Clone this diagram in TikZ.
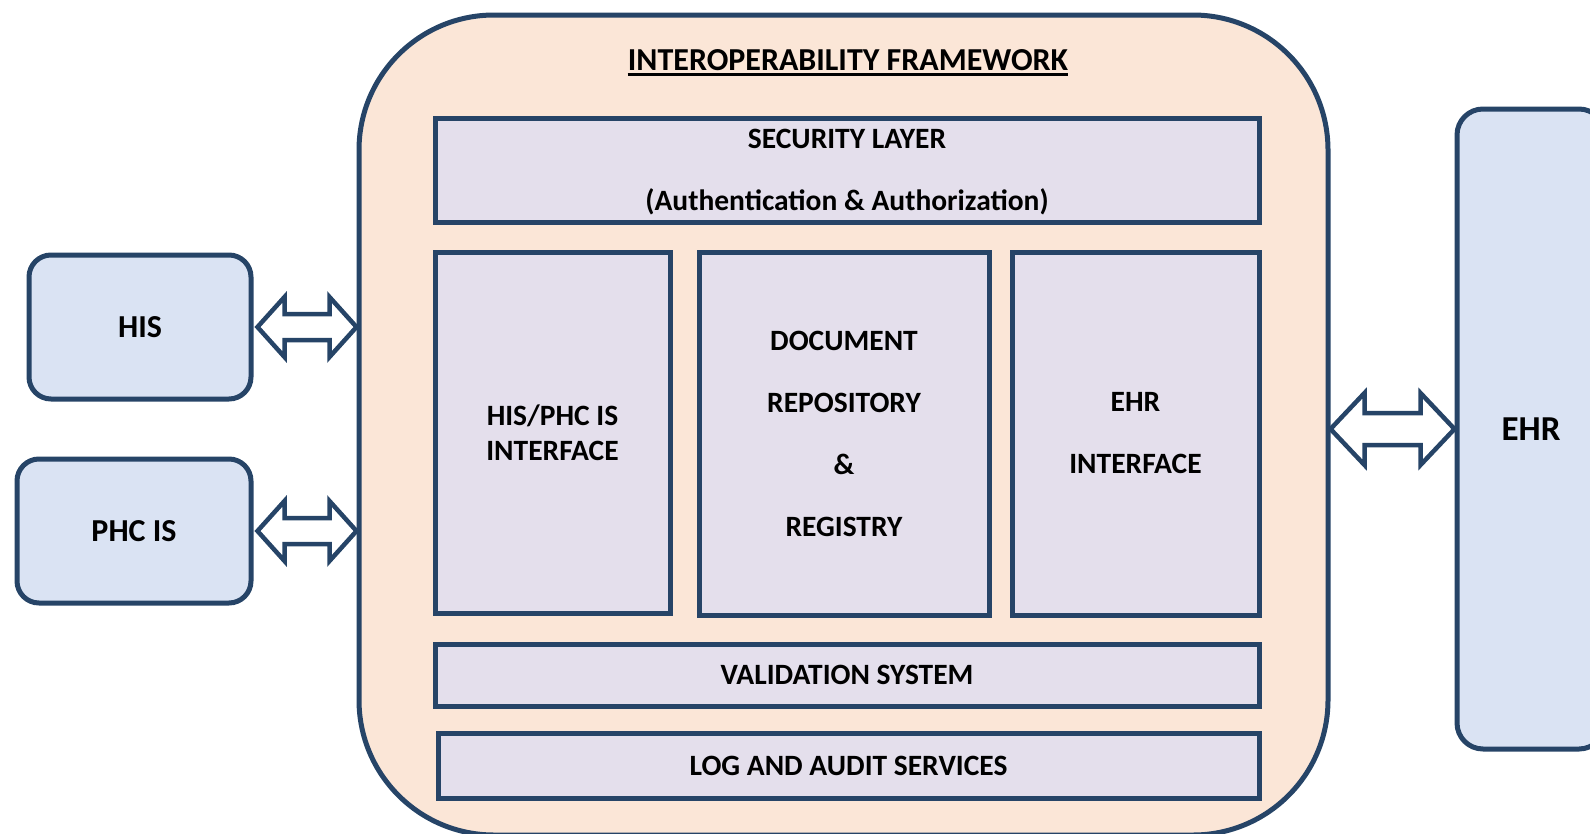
\documentclass[tikz,border=0pt]{standalone}
\usepackage{fontspec}
\setmainfont{Carlito}
\usetikzlibrary{calc}
\definecolor{navy}{HTML}{264467}
\definecolor{peach}{HTML}{FBE6D7}
\definecolor{lavender}{HTML}{E4DFEC}
\definecolor{skyblue}{HTML}{DAE3F3}
% block arrow with two heads: from, to, head half height, shaft half height, head length
\newcommand{\dblarrow}[5]{%
  \draw[arrowline] (#1) -- ($(#1)+(#5,#3)$) -- ($(#1)+(#5,#4)$) -- ($(#2)+(-#5,#4)$)
    -- ($(#2)+(-#5,#3)$) -- (#2) -- ($(#2)+(-#5,-#3)$) -- ($(#2)+(-#5,-#4)$)
    -- ($(#1)+(#5,-#4)$) -- ($(#1)+(#5,-#3)$) -- cycle;}
\begin{document}
\begin{tikzpicture}[x=1pt,y=-1pt,
  font=\bfseries\fontsize{29.5}{35}\selectfont,
  layer/.style={draw=navy,line width=5pt,fill=lavender,inner sep=0pt,align=center},
  sysbox/.style={draw=navy,line width=5pt,fill=skyblue,rounded corners=22pt,inner sep=0pt,
    font=\bfseries\fontsize{32}{38}\selectfont},
  arrowline/.style={draw=navy,line width=4.5pt,fill=white,line join=miter}]
    \useasboundingbox (0,0) rectangle (1590,833);
    \clip (0,0) rectangle (1590,833);
    % framework
    \node[draw=navy,line width=5pt,fill=peach,rounded corners=135pt,
      minimum width=969pt,minimum height=820pt] (frame) at (843.5,425) {};
    \node[inner sep=0pt,font=\bfseries\fontsize{32}{38}\selectfont] (title) at (848,60)
      {INTEROPERABILITY FRAMEWORK};
    \draw[line width=3pt] ([yshift=-4.5pt]title.base west) -- ([yshift=-4.5pt]title.base east);
    \node[layer,minimum width=824pt,minimum height=104pt,text depth=0pt] (security) at (847,170)
      {SECURITY LAYER\\[27pt](Authentication \& Authorization)};
    \node[layer,minimum width=235pt,minimum height=361pt] (hisif) at (552.5,432.5)
      {HIS/PHC IS\\INTERFACE};
    \node[layer,minimum width=290pt,minimum height=363pt] (docrepo) at (844,433.5)
      {DOCUMENT\\[27pt]REPOSITORY\\[27pt]\&\\[27pt]REGISTRY};
    \node[layer,minimum width=247pt,minimum height=363pt] (ehrif) at (1135.5,433.5)
      {EHR\\[27pt]INTERFACE};
    \node[layer,minimum width=824pt,minimum height=62pt] (valid) at (847,675)
      {VALIDATION SYSTEM};
    \node[layer,minimum width=821pt,minimum height=65pt] (audit) at (848.5,765.5)
      {LOG AND AUDIT SERVICES};
    % outside systems
    \node[sysbox,minimum width=222pt,minimum height=144pt] (his) at (140,327) {HIS};
    \node[sysbox,minimum width=234pt,minimum height=144pt] (phc) at (134,531) {PHC IS};
    \node[sysbox,rounded corners=26pt,minimum width=148pt,minimum height=640pt,
      font=\bfseries\fontsize{35}{42}\selectfont] (ehr) at (1531,429) {EHR};
    % connectors
    \coordinate (hisout) at ([xshift=4pt]his.east);
    \coordinate (phcout) at ([xshift=4pt]phc.east);
    \coordinate (hisin) at (frame.west |- his.east);
    \coordinate (phcin) at (frame.west |- phc.east);
    \coordinate (ehrout) at (frame.east |- ehr.west);
    \dblarrow{hisout}{hisin}{30}{13}{27}
    \dblarrow{phcout}{phcin}{30}{13}{27}
    \dblarrow{ehrout}{ehr.west}{36}{16}{34}
\end{tikzpicture}
\end{document}
